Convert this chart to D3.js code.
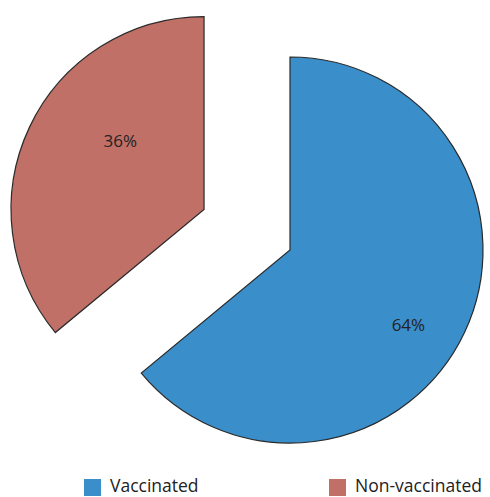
<!DOCTYPE html>
<html>
<head>
<meta charset="utf-8">
<script src="https://cdn.jsdelivr.net/npm/d3@7"></script>
<style>
  body { margin: 0; background: #fff; }
  text { font-family: "Open Sans", sans-serif; fill: #222; }
</style>
</head>
<body>
<svg width="490" height="497"></svg>
<script>
var categories = ['Vaccinated', 'Non-vaccinated']
var shares = [64, 36]
var colors = ['#3a8fcb', '#c07067']

var svg = d3.select('svg')
var radius = 193
var cx = 290, cy = 250
// how far each slice is pulled out of the centre
var explode = [0, 95]
// label placement: fraction of radius and turn (degrees) from the slice middle
var labelR = [0.725, 0.56]
var labelTurn = [7, 14]

var pie = d3.pie().sort(null).value(function(d){ return d })
var arc = d3.arc().innerRadius(0).outerRadius(radius)

var slices = svg.selectAll('g.slice')
  .data(pie(shares))
  .enter()
  .append('g')
  .attr('class', 'slice')
  .attr('transform', function(d, i){
    var mid = (d.startAngle + d.endAngle) / 2
    var dx = Math.sin(mid) * explode[i]
    var dy = -Math.cos(mid) * explode[i]
    return 'translate(' + (cx + dx) + ',' + (cy + dy) + ')'
  })

slices.append('path')
  .attr('d', arc)
  .attr('fill', function(d, i){ return colors[i] })
  .attr('stroke', '#2a2a2a')
  .attr('stroke-width', 1.2)

slices.append('text')
  .attr('transform', function(d, i){
    var a = (d.startAngle + d.endAngle) / 2 + labelTurn[i] * Math.PI / 180
    var r = radius * labelR[i]
    return 'translate(' + (Math.sin(a) * r) + ',' + (-Math.cos(a) * r) + ')'
  })
  .attr('text-anchor', 'middle')
  .attr('dy', '0.35em')
  .style('font-size', '17px')
  .text(function(d){ return d.data + '%' })

// legend
var legendX = [84, 329]
var legend = svg.selectAll('g.legend')
  .data(categories)
  .enter()
  .append('g')
  .attr('class', 'legend')
  .attr('transform', function(d, i){ return 'translate(' + legendX[i] + ',479)' })

legend.append('rect')
  .attr('width', 17)
  .attr('height', 17)
  .attr('fill', function(d, i){ return colors[i] })

legend.append('text')
  .attr('x', 26)
  .attr('y', 13)
  .style('font-size', '17.5px')
  .text(function(d){ return d })
</script>
</body>
</html>
